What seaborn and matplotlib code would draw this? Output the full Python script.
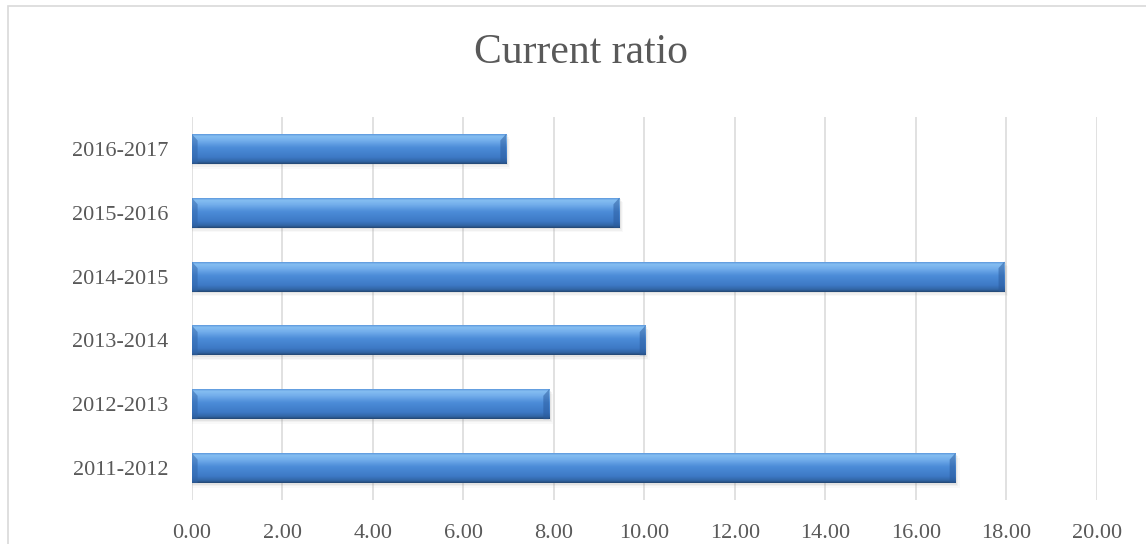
import matplotlib
matplotlib.use("Agg")
import matplotlib.pyplot as plt
from matplotlib.colors import LinearSegmentedColormap
from matplotlib.patches import Rectangle, Polygon
import numpy as np
import pandas as pd
import seaborn as sns

# Fiscal years and their current ratio
periods = ["2011-2012", "2012-2013", "2013-2014", "2014-2015", "2015-2016", "2016-2017"]
current_ratio = [16.88, 7.90, 10.03, 17.96, 9.45, 6.95]
x_ticks = [0, 2, 4, 6, 8, 10, 12, 14, 16, 18, 20]

df = pd.DataFrame({"period": periods, "ratio": current_ratio})
order = periods[::-1]  # latest year on top

sns.set_theme(style="white")
plt.rcParams["font.family"] = ["Liberation Serif", "DejaVu Serif"]

TEXT = "#595959"
GRID = "#d9d9d9"

fig = plt.figure(figsize=(11.46, 5.44), dpi=100)
ax = fig.add_axes([0.1673, 0.081, 0.7897, 0.704])

sns.barplot(data=df, x="ratio", y="period", order=order, orient="h",
            color="#3b7bca", width=0.47, ax=ax, zorder=3)

ax.set_xlim(0, 20)
ax.set_xticks(x_ticks)
ax.set_xticklabels([f"{t:.2f}" for t in x_ticks])
ax.set_xlabel("")
ax.set_ylabel("")
ylim = ax.get_ylim()

for s in ax.spines.values():
    s.set_visible(False)
ax.grid(axis="x", color=GRID, linewidth=1.1, zorder=0)
ax.grid(axis="y", visible=False)
ax.tick_params(axis="both", length=0, labelsize=16, colors=TEXT)
ax.tick_params(axis="x", pad=17)
ax.tick_params(axis="y", pad=17)

# Glossy vertical shading for each bar (top -> bottom)
shade = LinearSegmentedColormap.from_list(
    "bar_shade",
    [(0.00, "#5b97dc"), (0.06, "#86bff2"), (0.22, "#72adeb"),
     (0.45, "#4c8cd8"), (0.78, "#3d79c5"), (0.93, "#3164a3"),
     (1.00, "#234670")])
grad = np.linspace(0, 1, 64).reshape(-1, 1)

for bar in list(ax.patches):
    x0, y_top = bar.get_x(), bar.get_y()
    w, h = bar.get_width(), bar.get_height()
    # soft drop shadow below the bar
    for k, a in enumerate([0.10, 0.07, 0.04]):
        off = 0.025 * (k + 1)
        ax.add_patch(Rectangle((x0, y_top + off), w + 0.03 * (k + 1), h,
                               facecolor="#7f7f7f", edgecolor="none",
                               alpha=a, zorder=2))
    bar.set_facecolor("none")
    bar.set_edgecolor("none")
    im = ax.imshow(grad, cmap=shade, extent=(x0, x0 + w, y_top + h, y_top),
                   origin="upper", aspect="auto", interpolation="bicubic",
                   zorder=3)
    im.set_clip_path(bar)
    # bevelled ends
    dx, dy = 0.13, h * 0.22
    ax.add_patch(Polygon([(x0, y_top), (x0 + dx, y_top + dy), (x0 + dx, y_top + h),
                          (x0, y_top + h)], closed=True, facecolor="#2f63a8",
                         edgecolor="none", alpha=0.5, zorder=4))
    ax.add_patch(Polygon([(x0 + w, y_top), (x0 + w - dx, y_top + dy),
                          (x0 + w - dx, y_top + h), (x0 + w, y_top + h)],
                         closed=True, facecolor="#2a5a9c", edgecolor="none",
                         alpha=0.5, zorder=4))

ax.set_ylim(ylim)
ax.set_xlim(0, 20)

fig.text(0.507, 0.884, "Current ratio", ha="center", va="baseline",
         fontsize=30, color=TEXT)

# light outer frame of the chart area
fig.patches.append(Rectangle((8 / 1146, -0.2), 1.2, 1.2 - 6 / 544,
                             transform=fig.transFigure, facecolor="none",
                             edgecolor=GRID, linewidth=1.2))

fig.savefig("out.png", dpi=100)
